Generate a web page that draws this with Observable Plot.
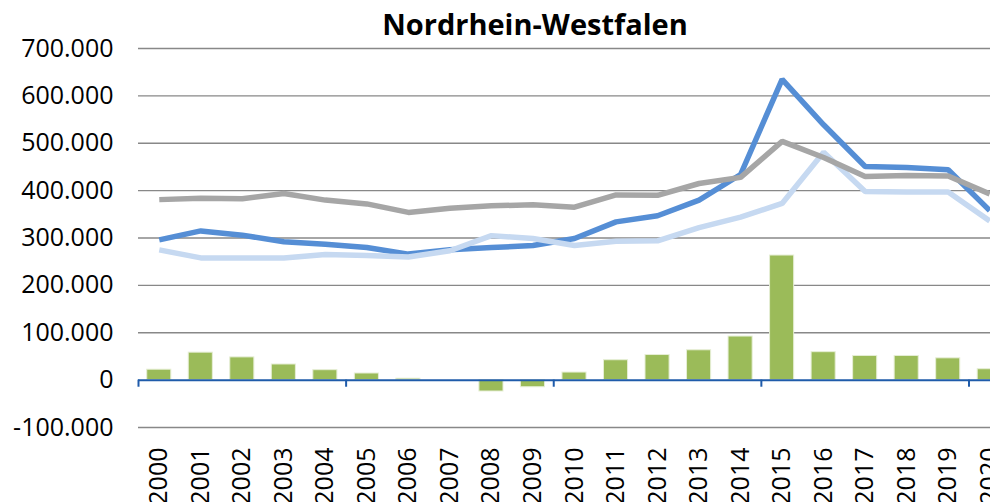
<!DOCTYPE html>
<html>
<head>
<meta charset="utf-8">
<script src="https://cdn.jsdelivr.net/npm/d3@7"></script>
<script src="https://cdn.jsdelivr.net/npm/@observablehq/plot@0.6"></script>
<style>
  html, body { margin: 0; padding: 0; background: #fff; overflow: hidden; width: 990px; height: 502px; }
  #wrap { position: relative; width: 990px; height: 502px; overflow: hidden; }
  #title { position: absolute; left: 0; width: 1070px; top: 4px; text-align: center;
           font-family: "Open Sans", sans-serif; font-weight: bold; font-size: 29px; color: #000; }
  #chart { position: absolute; left: 0; top: 0; width: 1010px; }
  #chart svg { max-width: none !important; }
</style>
</head>
<body>
<div id="wrap">
  <div id="chart"></div>
  <div id="title">Nordrhein-Westfalen</div>
</div>
<script>
const years = ["2000","2001","2002","2003","2004","2005","2006","2007","2008","2009","2010",
               "2011","2012","2013","2014","2015","2016","2017","2018","2019","2020"];
const seriesBlue = [296000,315000,306000,292000,287000,280000,266000,275000,280000,284000,299000,
                    334000,347000,380000,434000,635000,539000,451000,449000,444000,358000];
const seriesLightBlue = [275000,258000,258000,258000,265000,263000,260000,273000,305000,299000,284000,
                         293000,294000,322000,344000,373000,481000,398000,397000,397000,336000];
const seriesGray = [381000,384000,383000,394000,380000,372000,354000,363000,368000,370000,365000,
                    391000,390000,415000,428000,504000,470000,430000,432000,431000,393000];
const seriesBars = [22000,58000,48000,33000,21000,14000,3000,0,-24000,-15000,16000,
                    42000,53000,63000,92000,263000,59000,51000,51000,46000,23000];
const yTicks = [-100000,0,100000,200000,300000,400000,500000,600000,700000];
const majorYears = ["2000","2005","2010","2015","2020"];

const toRows = (vals) => years.map((y, i) => ({year: y, value: vals[i]}));
const blueRows = toRows(seriesBlue);
const lightRows = toRows(seriesLightBlue);
const grayRows = toRows(seriesGray);
const barRows = toRows(seriesBars);

const fmt = d3.formatLocale({decimal: ",", thousands: ".", grouping: [3], currency: ["", "€"], minus: "-"}).format(",");

const W = 1010, marginLeft = 138, marginRight = 0;
const step = (W - marginLeft - marginRight) / years.length;
const pad = 0.42;

const chart = Plot.plot({
  width: W,
  height: 502,
  marginLeft,
  marginRight,
  marginTop: 48,
  marginBottom: 75,
  style: {fontFamily: "Open Sans, sans-serif", background: "transparent", overflow: "visible", maxWidth: "none"},
  x: {domain: years, type: "band", paddingInner: pad, paddingOuter: pad / 2, round: false, axis: null},
  y: {domain: [-100000, 700000], axis: null},
  marks: [
    Plot.ruleY(yTicks.filter(d => d !== 0), {stroke: "#888888", strokeWidth: 1.3}),
    Plot.barY(barRows, {x: "year", y: "value", fill: "#9BBB59", stroke: "#E6EED5", strokeWidth: 1}),
    Plot.ruleY([0], {stroke: "#1F5BAA", strokeWidth: 2}),
    Plot.ruleX(majorYears, {x: d => d, y1: 0, y2: -15000, dx: -step / 2, stroke: "#1F5BAA", strokeWidth: 2}),
    Plot.line(blueRows, {x: "year", y: "value", stroke: "#558ED5", strokeWidth: 5.5, strokeLinejoin: "miter", strokeLinecap: "butt"}),
    Plot.line(lightRows, {x: "year", y: "value", stroke: "#C6D9F1", strokeWidth: 5.5, strokeLinejoin: "miter", strokeLinecap: "butt"}),
    Plot.line(grayRows, {x: "year", y: "value", stroke: "#A6A6A6", strokeWidth: 5.5, strokeLinejoin: "miter", strokeLinecap: "butt"}),
    Plot.axisY(yTicks, {tickSize: 0, tickPadding: 0, fontSize: 25, fill: "#000", textAnchor: "end", dx: -25, tickFormat: fmt, anchor: "left", label: null}),
    Plot.text(years, {x: d => d, frameAnchor: "bottom", dy: 20, rotate: -90, textAnchor: "end", lineAnchor: "middle", fontSize: 25, fill: "#000", text: d => d})
  ]
});
document.getElementById("chart").appendChild(chart);
</script>
</body>
</html>
